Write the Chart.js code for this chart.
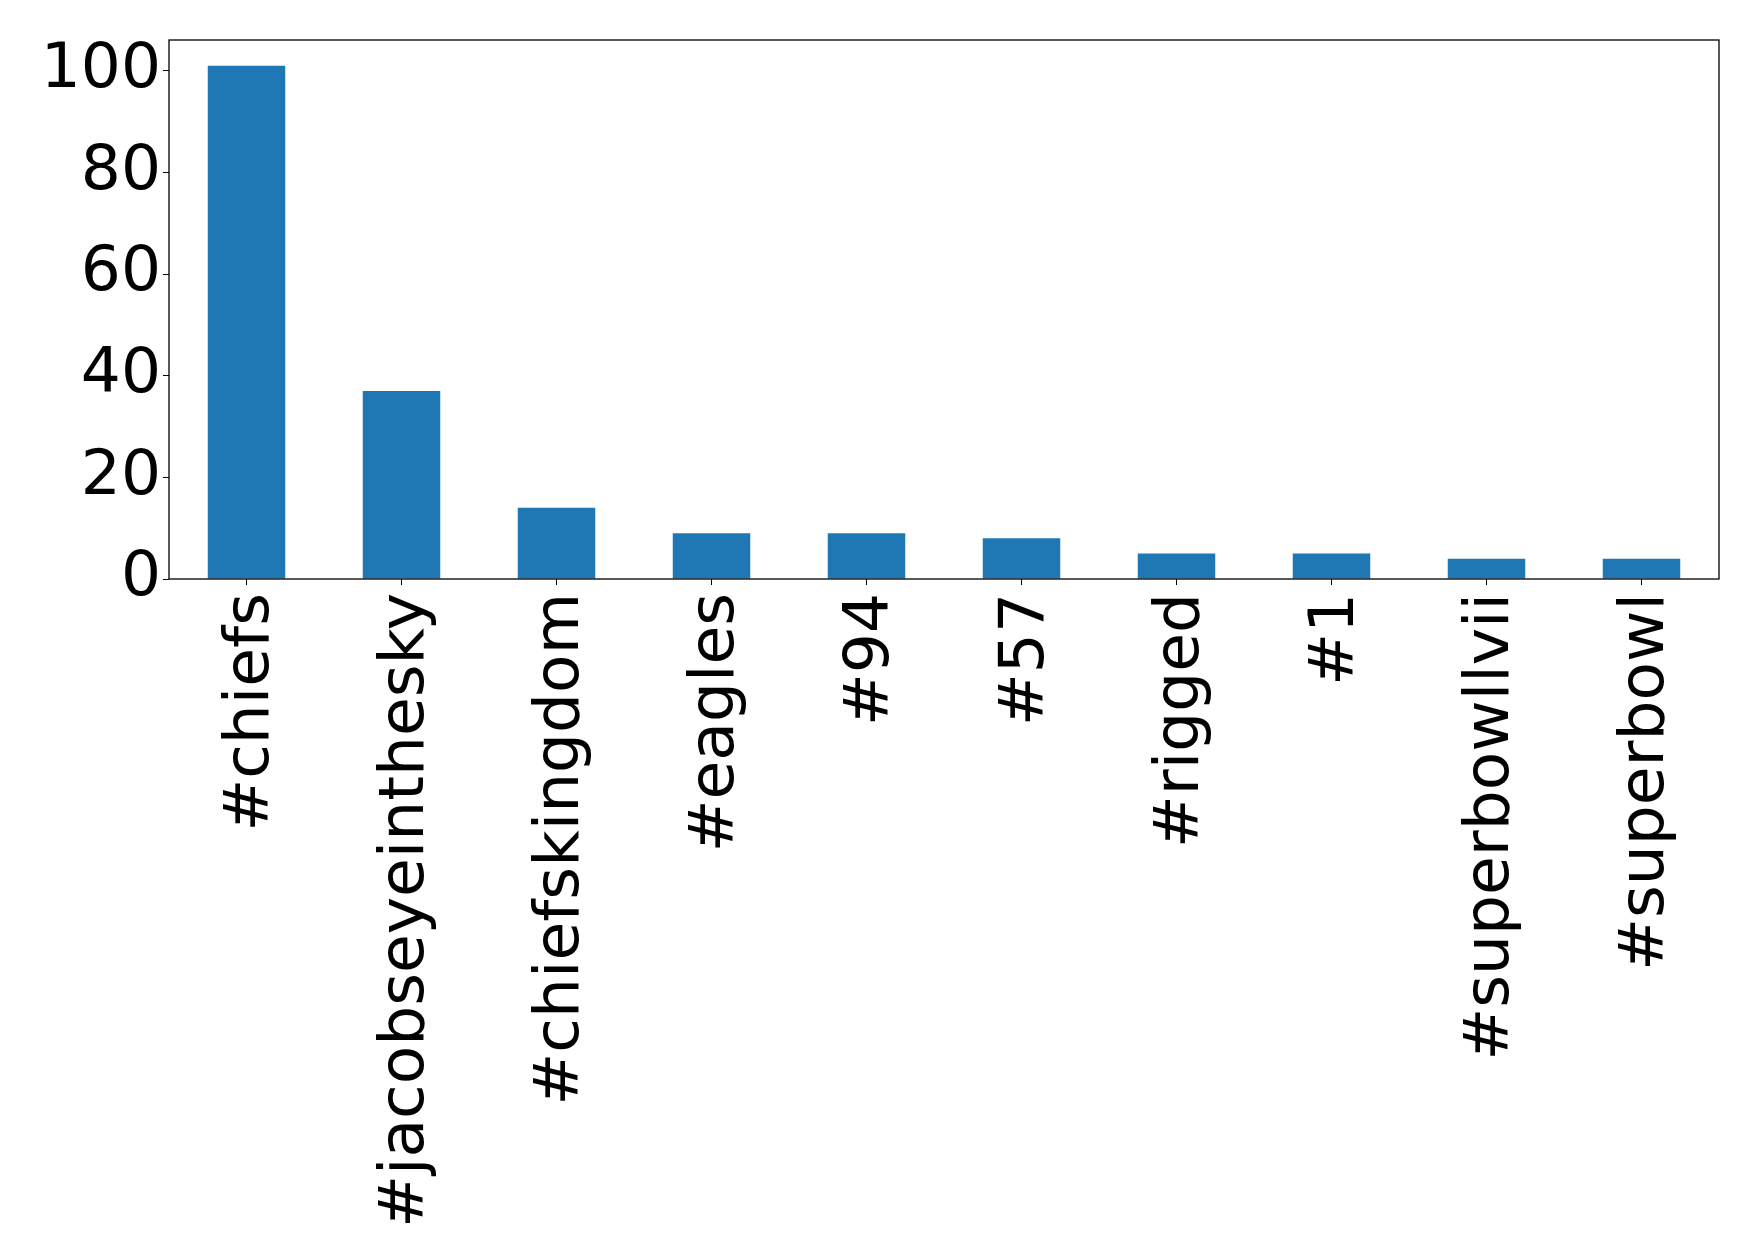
<!DOCTYPE html>
<html>
<head>
<meta charset="utf-8">
<script src="https://cdn.jsdelivr.net/npm/chart.js@4"></script>
<style>
  body { margin: 0; background: #fff; }
  #wrap { width: 1758px; height: 1258px; }
</style>
</head>
<body>
<div id="wrap"><canvas id="myChart" width="1758" height="1258"></canvas></div>
<script>
const hashtags = ["#chiefs", "#jacobseyeinthesky", "#chiefskingdom", "#eagles", "#94", "#57", "#rigged", "#1", "#superbowllvii", "#superbowl"];
const counts = [101, 37, 14, 9, 9, 8, 5, 5, 4, 4];
const yTicks = [0, 20, 40, 60, 80, 100];

// box around the plot, like a matplotlib frame
const frame = {
  id: "frame",
  afterDraw(chart) {
    const a = chart.chartArea;
    const c = chart.ctx;
    c.save();
    c.strokeStyle = "#000";
    c.lineWidth = 1.3;
    c.strokeRect(a.left, a.top, a.right - a.left, a.bottom - a.top);
    c.restore();
  }
};

var ctx = document.getElementById("myChart").getContext("2d");
var myChart = new Chart(ctx, {
  type: "bar",
  data: {
    labels: hashtags,
    datasets: [
      {
        data: counts,
        backgroundColor: "#1f77b4",
        barPercentage: 0.5,
        categoryPercentage: 1,
      },
    ],
  },
  options: {
    responsive: false,
    animation: false,
    layout: { padding: { top: 40, right: 39, bottom: 0, left: 0 } },
    plugins: {
      legend: { display: false },
      tooltip: { enabled: false },
    },
    scales: {
      x: {
        grid: { display: true, offset: false, drawOnChartArea: false, tickLength: 6, color: "#000" },
        border: { display: false },
        ticks: {
          color: "#000",
          font: { family: "DejaVu Sans", size: 63 },
          minRotation: 90,
          maxRotation: 90,
          autoSkip: false,
          padding: 8,
          labelOffset: 5,
        },
        afterFit(scale) { scale.height = 1258 - 579; },
      },
      y: {
        min: 0,
        max: 106.05,
        grid: { display: true, drawOnChartArea: false, tickLength: 6, color: "#000" },
        border: { display: false },
        ticks: {
          color: "#000",
          font: { family: "DejaVu Sans", size: 63 },
          padding: 2,
        },
        afterBuildTicks(scale) { scale.ticks = yTicks.map(v => ({ value: v })); },
        afterFit(scale) { scale.width = 169; },
      },
    },
  },
  plugins: [frame],
});
</script>
</body>
</html>
